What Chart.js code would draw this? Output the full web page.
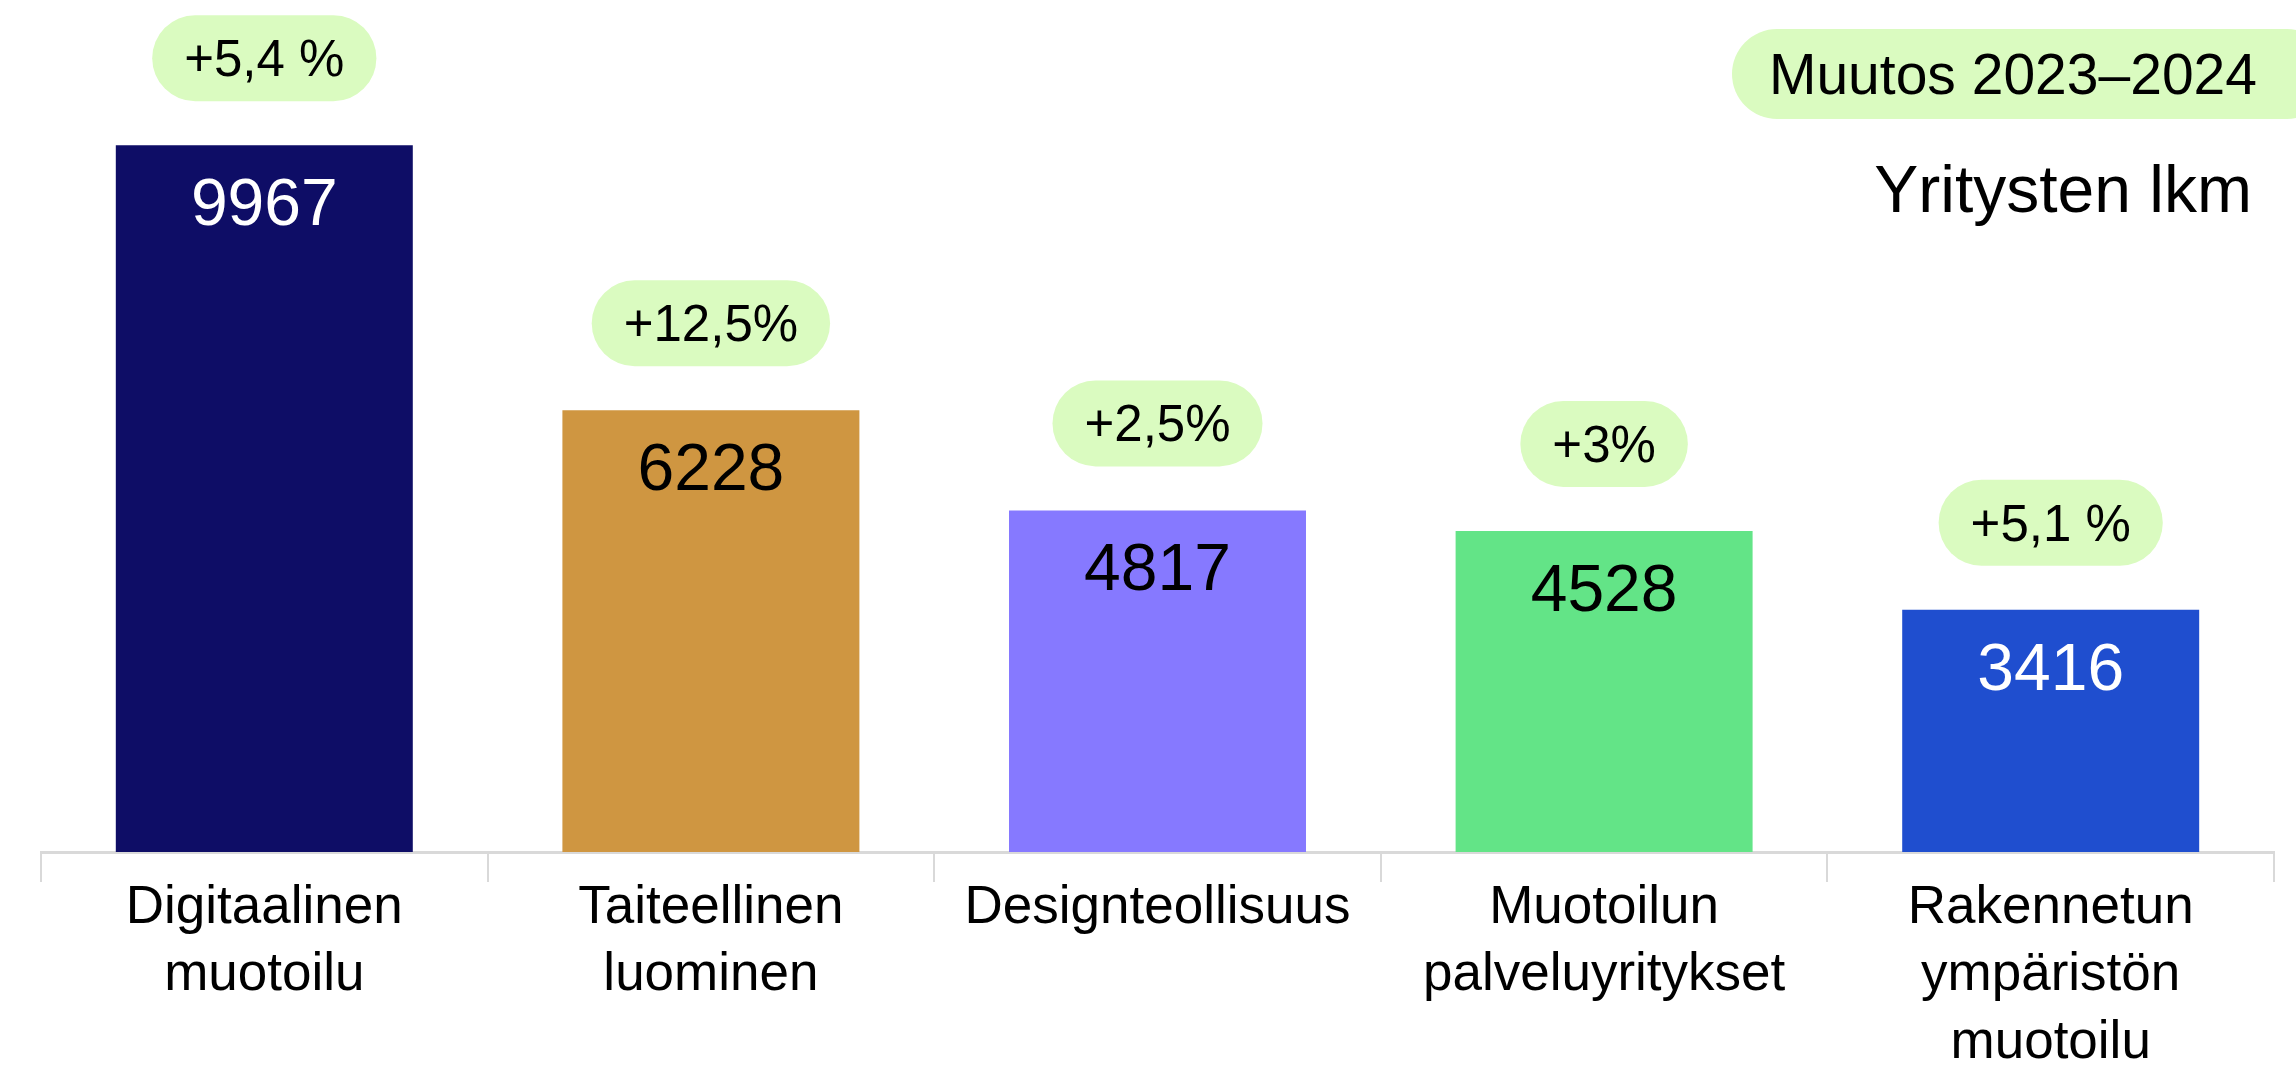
<!DOCTYPE html>
<html>
<head>
<meta charset="utf-8">
<script src="https://cdn.jsdelivr.net/npm/chart.js@4"></script>
<style>
  html, body { margin: 0; padding: 0; background: #ffffff; }
  #wrap { position: relative; width: 2296px; height: 1069px; }
</style>
</head>
<body>
<div id="wrap"><canvas id="c"></canvas></div>
<script>
const categories = [
  ["Digitaalinen", "muotoilu"],
  ["Taiteellinen", "luominen"],
  "Designteollisuus",
  ["Muotoilun", "palveluyritykset"],
  ["Rakennetun", "ympäristön", "muotoilu"]
];
const companyCounts = [9967, 6228, 4817, 4528, 3416];
const changeLabels = ["+5,4 %", "+12,5%", "+2,5%", "+3%", "+5,1 %"];
const barColors = ["#0E0D66", "#CF9641", "#8679FF", "#63E487", "#1F4ECF"];
const valueTextColors = ["#ffffff", "#000000", "#000000", "#000000", "#ffffff"];
const legendBadgeText = "Muutos 2023\u20132024";
const unitText = "Yritysten lkm";

const FONT = "'Liberation Sans', Arial, sans-serif";
const BADGE_BG = "#DAFBC0";

function pill(ctx, x, y, w, h) {
  const r = h / 2;
  ctx.beginPath();
  ctx.roundRect(x, y, w, h, r);
  ctx.fill();
}

const annotatePlugin = {
  id: 'annotate',
  afterDatasetsDraw(chart) {
    const ctx = chart.ctx;
    const meta = chart.getDatasetMeta(0);
    ctx.save();
    meta.data.forEach((bar, i) => {
      // value inside bar
      ctx.font = "66px " + FONT;
      ctx.textAlign = "center";
      ctx.textBaseline = "alphabetic";
      ctx.fillStyle = valueTextColors[i];
      ctx.fillText(String(companyCounts[i]), bar.x, bar.y + 80);
      // change badge above bar
      ctx.font = "51px " + FONT;
      const tw = ctx.measureText(changeLabels[i]).width;
      const bw = tw + 64, bh = 86;
      const bottom = bar.y - 44;
      ctx.fillStyle = BADGE_BG;
      pill(ctx, bar.x - bw / 2, bottom - bh, bw, bh);
      ctx.fillStyle = "#000000";
      ctx.fillText(changeLabels[i], bar.x, bottom - bh / 2 + 18);
    });
    // legend badge top-right
    ctx.fillStyle = BADGE_BG;
    pill(ctx, 1732, 29, 600, 90);
    ctx.font = "57px " + FONT;
    ctx.fillStyle = "#000000";
    ctx.textAlign = "right";
    ctx.fillText(legendBadgeText, 2257, 94);
    // unit text
    ctx.font = "66px " + FONT;
    ctx.fillText(unitText, 2252, 212);
    ctx.restore();
  }
};

new Chart(document.getElementById('c'), {
  type: 'bar',
  data: {
    labels: categories,
    datasets: [{
      data: companyCounts,
      backgroundColor: barColors,
      borderWidth: 0,
      barPercentage: 0.665,
      categoryPercentage: 1.0
    }]
  },
  options: {
    responsive: true,
    maintainAspectRatio: false,
    animation: false,
    layout: { padding: { left: 41, right: 22, top: 1, bottom: 0 } },
    plugins: { legend: { display: false }, tooltip: { enabled: false } },
    scales: {
      x: {
        afterFit(scale) { scale.height = 217; },
        grid: {
          display: true,
          offset: true,
          drawOnChartArea: false,
          drawTicks: true,
          tickLength: 30,
          color: "#d9d9d9",
          lineWidth: 2
        },
        border: { display: true, color: "#d9d9d9", width: 3 },
        ticks: {
          color: "#000000",
          font: { family: FONT, size: 53, lineHeight: 1.28 },
          padding: -8,
          maxRotation: 0,
          autoSkip: false
        }
      },
      y: {
        display: false,
        min: 0,
        max: 12000
      }
    }
  },
  plugins: [annotatePlugin]
});
</script>
</body>
</html>
